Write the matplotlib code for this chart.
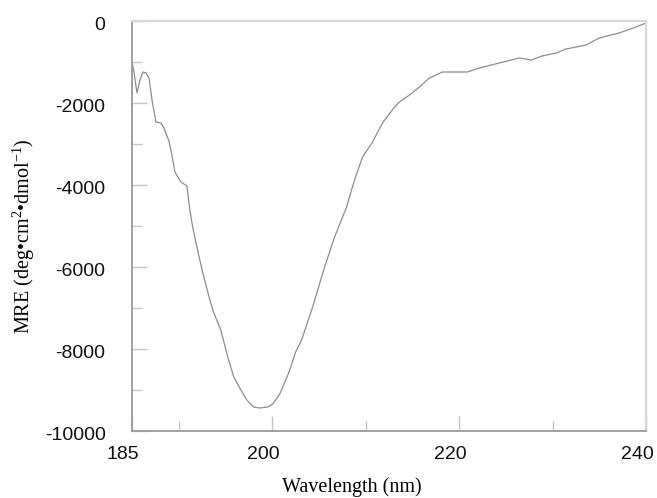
"""CD spectrum (mean residue ellipticity vs wavelength)."""

import matplotlib
matplotlib.use("Agg")
import matplotlib.pyplot as plt
import matplotlib.transforms as mtransforms
from matplotlib.ticker import MultipleLocator

# Spectrum
wavelength = [
    185.0, 185.21, 185.53, 185.85, 186.17, 186.50, 186.82, 187.14, 187.56,
    188.10, 188.42, 188.95, 189.27, 189.59, 189.91, 190.23, 190.55, 190.87,
    191.19, 191.51, 191.94, 192.58, 193.33, 193.76, 194.50, 195.25, 195.89,
    196.53, 197.28, 198.03, 198.67, 199.52, 200.06, 200.81, 201.77, 202.51,
    203.15, 204.33, 205.61, 206.68, 207.96, 208.81, 209.67, 210.74, 211.80,
    213.09, 213.62, 214.69, 215.76, 216.83, 218.21, 220.88, 222.16, 224.30,
    226.44, 227.72, 228.89, 230.39, 231.45, 233.59, 234.98, 237.11, 238.93,
    240.0,
]
mre = [
    -1000, -1244, -1756, -1439, -1244, -1268, -1390, -1927, -2463,
    -2488, -2610, -2927, -3268, -3683, -3805, -3927, -3976, -4025,
    -4610, -5049, -5512, -6146, -6805, -7122, -7537, -8195, -8683,
    -8951, -9244, -9415, -9439, -9415, -9341, -9098, -8585, -8073,
    -7780, -6976, -6000, -5268, -4537, -3878, -3317, -2951, -2488,
    -2098, -1976, -1805, -1610, -1390, -1244, -1244, -1146, -1024,
    -902, -951, -854, -780, -683, -585, -415, -293, -146,
    -49,
]
x_ticks = [185, 200, 220, 240]
y_ticks = [0, -2000, -4000, -6000, -8000, -10000]

plt.rcParams['axes.unicode_minus'] = False
plt.rcParams['mathtext.fontset'] = 'custom'
plt.rcParams['mathtext.rm'] = 'Liberation Serif'
plt.rcParams['mathtext.it'] = 'Liberation Serif:italic'

fig = plt.figure(figsize=(6.57, 4.98), dpi=100)
ax = fig.add_axes([132 / 657, 1 - 431 / 498, 514 / 657, 410 / 498])

ax.plot(wavelength, mre, color='#8c8c8c', linewidth=0.9)

ax.set_xlim(185, 240)
ax.set_ylim(-10000, 0)
ax.set_xticks(x_ticks)
ax.set_yticks(y_ticks)
ax.xaxis.set_minor_locator(MultipleLocator(10))
ax.yaxis.set_minor_locator(MultipleLocator(1000))

# Spines: darker left/bottom, pale top/right
for side in ['left', 'bottom']:
    ax.spines[side].set_color('#9a9a9a')
    ax.spines[side].set_linewidth(1.3)
for side in ['top', 'right']:
    ax.spines[side].set_color('#d6d6d6')
    ax.spines[side].set_linewidth(1.6)

ax.tick_params(which='major', direction='in', length=10.8, width=1.0,
               color='#c4c4c4', labelsize=14, labelcolor='#111111')
ax.tick_params(which='minor', direction='in', length=7.2, width=1.0,
               color='#c4c4c4')
ax.tick_params(axis='y', pad=19)
ax.tick_params(axis='x', pad=11)

for lab in ax.get_xticklabels() + ax.get_yticklabels():
    lab.set_fontfamily('Liberation Sans')

# Shift tick labels slightly like the original
dx = mtransforms.ScaledTranslation(-9 / 100, 0, fig.dpi_scale_trans)
for lab in ax.get_xticklabels():
    lab.set_transform(lab.get_transform() + dx)
dy = mtransforms.ScaledTranslation(0, -2.5 / 100, fig.dpi_scale_trans)
for lab in ax.get_yticklabels():
    lab.set_transform(lab.get_transform() + dy)

ax.set_xlabel('Wavelength (nm)', family='Liberation Serif', fontsize=14.5,
              va='top')
ax.xaxis.set_label_coords(0.428, -0.113)
ax.set_ylabel(r'MRE (deg•cm$^{2}$•dmol$^{-1}$)', family='Liberation Serif',
              fontsize=14.5, va='center')
ax.yaxis.set_label_coords(-0.21, 0.476)

fig.savefig('out.png', dpi=100)
